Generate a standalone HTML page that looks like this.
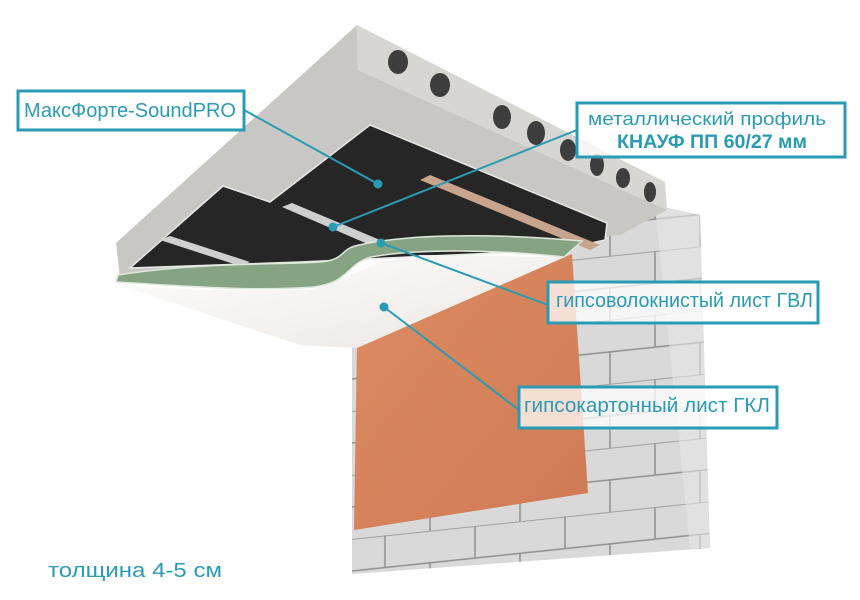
<!DOCTYPE html>
<html><head><meta charset="utf-8"><style>
html,body{margin:0;padding:0;background:#fff;}
svg{display:block;}
text{font-family:"Liberation Sans",sans-serif;fill:#2a9bb4;}
</style></head><body>
<svg width="860" height="600" viewBox="0 0 860 600" xmlns="http://www.w3.org/2000/svg">
<defs>
<pattern id="blk" width="90" height="64" patternUnits="userSpaceOnUse" patternTransform="skewY(-6)">
<rect width="90" height="64" fill="#d9d9d9"/>
<path d="M0 0H90M0 32H90M25 0V32M70 32V64" stroke="#8f8f8f" stroke-width="1.5"/>
</pattern>
<linearGradient id="wh" x1="0" y1="0" x2="1" y2="1"><stop offset="0" stop-color="#ffffff"/><stop offset="1" stop-color="#ebe6e2"/></linearGradient>
<linearGradient id="or" x1="0" y1="0" x2="1" y2="1"><stop offset="0" stop-color="#dc8c62"/><stop offset="1" stop-color="#d07a55"/></linearGradient>
</defs>
<!-- block wall -->
<polygon points="352,345 570,250 655,205 700,215 710,548 352,574" fill="url(#blk)"/>
<polygon points="655,205 700,215 710,548 690,548" fill="#e6e6e6" opacity="0.6"/>
<!-- orange panel -->
<polygon points="357,345 572,254 588,493 354,530" fill="url(#or)"/>
<!-- slab underside -->
<polygon points="357,25 358,70 667,210 620,235 120,278 116,243" fill="#c9c7c3"/>
<!-- slab front face -->
<polygon points="357,25 665,182 667,210 358,70" fill="#d8d6d2"/>
<g fill="#3e3e3e">
<ellipse cx="398" cy="62" rx="10" ry="12"/>
<ellipse cx="440" cy="85" rx="10" ry="12"/>
<ellipse cx="502" cy="117" rx="9" ry="12"/>
<ellipse cx="536" cy="133" rx="9" ry="12"/>
<ellipse cx="568" cy="150" rx="8" ry="11"/>
<ellipse cx="597" cy="165" rx="7" ry="11"/>
<ellipse cx="623" cy="178" rx="7" ry="10"/>
<ellipse cx="650" cy="192" rx="6" ry="10"/>
</g>
<!-- insulation -->
<polygon points="130,268 223,186 270,202 370,125 607,223 605,240 560,250 300,262" fill="#262626" stroke="#e8e8e8" stroke-width="1.5"/>
<!-- profiles -->
<polygon points="282,207 292,203 380,240 370,245" fill="#cfcfcf"/>
<polygon points="420,180 430,175 600,245 590,250" fill="#c9a48c"/>
<polygon points="160,240 170,236 250,262 240,266" fill="#cfcfcf"/>
<!-- GKL white -->
<polygon points="116,284 200,290 310,290 350,275 380,262 420,255 565,257 357,348 300,345" fill="url(#wh)"/>
<!-- GVL green -->
<path d="M118,275 C200,262 280,265 320,262 C345,260 340,250 355,246 C400,235 480,232 582,241 L564,257 C500,250 420,248 371,257 C345,265 350,282 314,287 C250,292 170,285 116,282 Z" fill="#86a383" stroke="#e0e8dc" stroke-width="1.5"/>
<!-- leader lines -->
<g stroke="#2a9bb4" stroke-width="2" fill="#2a9bb4">
<line x1="244" y1="110" x2="378" y2="184"/><circle cx="378" cy="184" r="3.5"/>
<line x1="577" y1="130" x2="333" y2="227"/><circle cx="333" cy="227" r="3.5"/>
<line x1="548" y1="305" x2="381" y2="243"/><circle cx="381" cy="243" r="3.5"/>
<line x1="519" y1="410" x2="384" y2="307"/><circle cx="384" cy="307" r="3.5"/>
</g>
<!-- boxes -->
<g fill="#fff" fill-opacity="0.75" stroke="#2a9bb4" stroke-width="3">
<rect x="18" y="91" width="226" height="39"/>
<rect x="577" y="103" width="268" height="54"/>
<rect x="548" y="282" width="270" height="41"/>
<rect x="519" y="387" width="258" height="41"/>
</g>
<text x="24" y="117" font-size="20" textLength="212" lengthAdjust="spacingAndGlyphs">МаксФорте-SoundPRO</text>
<text x="588" y="125" font-size="18" textLength="238" lengthAdjust="spacingAndGlyphs">металлический профиль</text>
<text x="617" y="148" font-size="19" font-weight="bold" textLength="190" lengthAdjust="spacingAndGlyphs">КНАУФ ПП 60/27 мм</text>
<text x="556" y="307" font-size="20" textLength="257" lengthAdjust="spacingAndGlyphs">гипсоволокнистый лист ГВЛ</text>
<text x="524" y="412" font-size="20" textLength="246" lengthAdjust="spacingAndGlyphs">гипсокартонный лист ГКЛ</text>
<text x="48" y="577" font-size="20" textLength="174" lengthAdjust="spacingAndGlyphs">толщина 4-5 см</text>
</svg>
</body></html>
